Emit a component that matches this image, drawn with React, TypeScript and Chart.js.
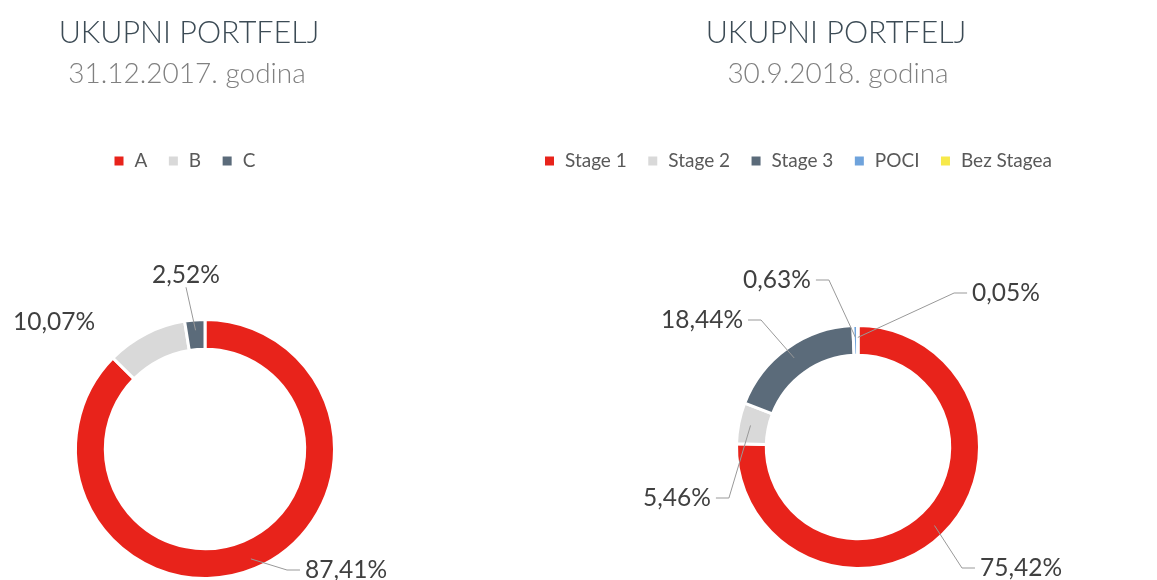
import React, { useEffect, useRef } from "react";
import { Chart, registerables } from "chart.js";

Chart.register(...registerables);

// ---------- data ----------
const leftTitle = "UKUPNI PORTFELJ";
const leftSubtitle = "31.12.2017. godina";
const leftCategories = ["A", "B", "C"];
const leftValues = [87.41, 10.07, 2.52];

const rightTitle = "UKUPNI PORTFELJ";
const rightSubtitle = "30.9.2018. godina";
const rightCategories = ["Stage 1", "Stage 2", "Stage 3", "POCI", "Bez Stagea"];
const rightValues = [75.42, 5.46, 18.44, 0.63, 0.05];

// ---------- styles ----------
const RED = "#e8231b";
const GREY = "#d9d9d9";
const SLATE = "#5b6b7a";
const BLUE = "#6fa3dc";
const YELLOW = "#f7e94a";
const leftColors = [RED, GREY, SLATE];
const rightColors = [RED, GREY, SLATE, BLUE, YELLOW];

const FONT = "Lato, 'Open Sans', sans-serif";
const CANVAS_H = 760;

type Side = "left" | "right" | "bottom" | "none";
interface LabelLayout { dx: number; dy: number; side: Side; }

// label placement relative to the doughnut centre (layout only)
const leftLabelLayout: LabelLayout[] = [
  { dx: 141, dy: 121, side: "left" },
  { dx: -151, dy: -127, side: "none" },
  { dx: -19, dy: -174, side: "bottom" },
];
const rightLabelLayout: LabelLayout[] = [
  { dx: 163, dy: 121, side: "left" },
  { dx: -181, dy: 51, side: "right" },
  { dx: -156, dy: -127, side: "right" },
  { dx: -81, dy: -167, side: "right" },
  { dx: 148, dy: -154, side: "left" },
];

const fmt = (v: number) => v.toFixed(2).replace(".", ",") + "%";

function makeLabelPlugin(layout: LabelLayout[], anchorFrac: number) {
  return {
    id: "leaderLabels",
    afterDatasetsDraw(chart: any) {
      const meta = chart.getDatasetMeta(0);
      const ctx: CanvasRenderingContext2D = chart.ctx;
      const data = chart.data.datasets[0].data as number[];
      const size = 24.5;
      ctx.save();
      ctx.font = `${size}px ${FONT}`;
      meta.data.forEach((arc: any, i: number) => {
        const lay = layout[i];
        if (!lay) return;
        const p = arc.getProps(["x", "y", "startAngle", "endAngle", "innerRadius", "outerRadius"], true);
        const mid = (p.startAngle + p.endAngle) / 2;
        const r = p.innerRadius + (p.outerRadius - p.innerRadius) * anchorFrac;
        const ax = p.x + Math.cos(mid) * r;
        const ay = p.y + Math.sin(mid) * r;
        const tx = p.x + lay.dx;
        const ty = p.y + lay.dy;
        const text = fmt(data[i]);
        const w = ctx.measureText(text).width;
        if (lay.side !== "none") {
          let ex = tx, ey = ty, bx = tx, by = ty;
          if (lay.side === "left") { ex = tx - w / 2 - 5; bx = ex - 13; }
          else if (lay.side === "right") { ex = tx + w / 2 + 5; bx = ex + 13; }
          else { ey = ty + size * 0.5; by = ey; }
          ctx.beginPath();
          ctx.moveTo(ax, ay);
          ctx.lineTo(bx, by);
          ctx.lineTo(ex, ey);
          ctx.strokeStyle = "#999999";
          ctx.lineWidth = 1;
          ctx.stroke();
        }
        ctx.fillStyle = "#404040";
        ctx.textAlign = "center";
        ctx.textBaseline = "middle";
        ctx.fillText(text, tx, ty);
      });
      ctx.restore();
    },
  };
}

function makeHeaderPlugin(title: string, subtitle: string, titleX: number, subX: number) {
  return {
    id: "header",
    afterDraw(chart: any) {
      const ctx: CanvasRenderingContext2D = chart.ctx;
      ctx.save();
      ctx.textAlign = "center";
      ctx.textBaseline = "alphabetic";
      ctx.font = `300 30.5px ${FONT}`;
      ctx.fillStyle = "#3c4b55";
      ctx.fillText(title, titleX, 43);
      ctx.font = `300 28px ${FONT}`;
      ctx.fillStyle = "#808080";
      ctx.fillText(subtitle, subX, 83);
      ctx.restore();
    },
  };
}

interface DonutProps {
  left: number;
  width: number;
  labels: string[];
  values: number[];
  colors: string[];
  title: string;
  subtitle: string;
  titleX: number;
  subX: number;
  outer: number;
  cutout: string;
  padding: { left: number; right: number; top: number; bottom: number };
  labelLayout: LabelLayout[];
  anchorFrac: number;
}

function Donut(props: DonutProps) {
  const ref = useRef<HTMLCanvasElement>(null);
  useEffect(() => {
    const chart = new Chart(ref.current as HTMLCanvasElement, {
      type: "doughnut",
      data: {
        labels: props.labels,
        datasets: [
          {
            data: props.values,
            backgroundColor: props.colors,
            borderColor: "#ffffff",
            borderWidth: 3,
            hoverOffset: 0,
            clip: false,
          } as any,
        ],
      },
      options: {
        animation: false,
        responsive: false,
        maintainAspectRatio: false,
        radius: props.outer,
        cutout: props.cutout,
        layout: { padding: props.padding },
        plugins: {
          legend: {
            position: "top",
            align: "start",
            labels: {
              boxWidth: 12,
              boxHeight: 12,
              padding: 20,
              color: "#595959",
              font: { family: FONT, size: 19 },
            },
          },
          tooltip: { enabled: false },
        },
      } as any,
      plugins: [
        makeHeaderPlugin(props.title, props.subtitle, props.titleX, props.subX),
        makeLabelPlugin(props.labelLayout, props.anchorFrac),
      ],
    });
    return () => chart.destroy();
  }, []);
  return (
    <canvas
      ref={ref}
      width={props.width}
      height={CANVAS_H}
      style={{ position: "absolute", left: props.left, top: 0, width: props.width, height: CANVAS_H }}
    />
  );
}

export default function App() {
  return (
    <div
      style={{
        position: "absolute",
        left: 0,
        top: 0,
        width: 1157,
        height: 580,
        overflow: "hidden",
        background: "#ffffff",
      }}
    >
      <Donut
        left={0}
        width={440}
        labels={leftCategories}
        values={leftValues}
        colors={leftColors}
        title={leftTitle}
        subtitle={leftSubtitle}
        titleX={189}
        subX={187}
        outer={129.5}
        cutout="77%"
        padding={{ left: 93, right: 123, top: 131.5, bottom: 42.5 }}
        labelLayout={leftLabelLayout}
        anchorFrac={0.65}
      />
      <Donut
        left={470}
        width={787}
        labels={rightCategories}
        values={rightValues}
        colors={rightColors}
        title={rightTitle}
        subtitle={rightSubtitle}
        titleX={366}
        subX={368}
        outer={121.5}
        cutout="75.5%"
        padding={{ left: 53.5, right: 64.5, top: 131.5, bottom: 46.5 }}
        labelLayout={rightLabelLayout}
        anchorFrac={0.6}
      />
    </div>
  );
}
